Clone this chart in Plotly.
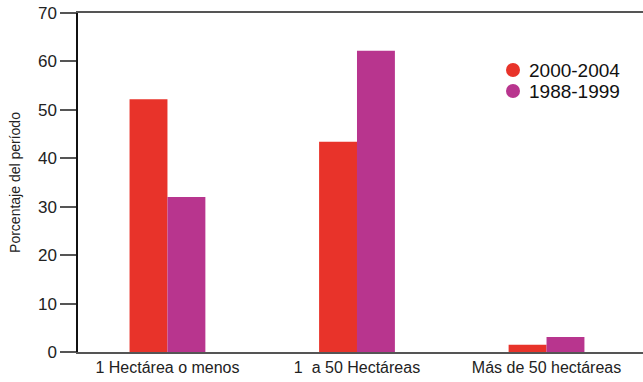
import plotly.graph_objects as go

categories = ["1 Hectárea o menos", "1  a 50 Hectáreas", "Más de 50 hectáreas"]
series_names = ["2000-2004", "1988-1999"]
values_2000_2004 = [52.2, 43.4, 1.5]
values_1988_1999 = [32.0, 62.2, 3.1]
colors = ["#E8332A", "#B8358E"]

W, H = 643, 382
ML, MR, MT, MB = 78, 0, 13, 30
PW, PH = W - ML - MR, H - MT - MB

xpos = list(range(len(categories)))
fig = go.Figure()
for name, vals, col in zip(series_names, [values_2000_2004, values_1988_1999], colors):
    fig.add_trace(go.Bar(x=xpos, y=vals, marker=dict(color=col, line=dict(width=0)),
                         name=name, showlegend=False))

# legend drawn as circle + text in paper coordinates
leg_px_x, leg_px_y = 513, [70, 91]
r = 7
for name, col, py in zip(series_names, colors, leg_px_y):
    cx = (leg_px_x - ML) / PW
    cy = (H - MB - py) / PH
    fig.add_shape(type="circle", xref="paper", yref="paper",
                  x0=cx - r / PW, x1=cx + r / PW, y0=cy - r / PH, y1=cy + r / PH,
                  fillcolor=col, line=dict(width=0))
    fig.add_annotation(text=name, xref="paper", yref="paper", x=(527 - ML) / PW, y=cy,
                       xanchor="left", yanchor="middle", showarrow=False,
                       font=dict(size=19, color="#111"))

font = "Liberation Sans, Arial, sans-serif"
fig.update_layout(
    width=W, height=H, showlegend=False,
    margin=dict(l=ML, r=MR, t=MT, b=MB, autoexpand=False),
    plot_bgcolor="white", paper_bgcolor="white",
    barmode="group", bargap=0.6, bargroupgap=0,
    font=dict(family=font, color="#222", size=16),
    xaxis=dict(tickmode="array", tickvals=xpos, ticktext=categories,
               range=[-0.472, 2.509], showline=True, linecolor="#555", linewidth=1.5,
               mirror=True, ticks="", showgrid=False, zeroline=False,
               tickfont=dict(size=16), automargin=False),
    yaxis=dict(range=[0, 70], dtick=10, showline=True, linecolor="#111", linewidth=1.5,
               ticks="outside", ticklen=16, tickwidth=1.5, tickcolor="#555",
               showgrid=False, zeroline=False, tickfont=dict(size=17), automargin=False,
               title=dict(text="Porcentaje del período", font=dict(size=14), standoff=14)),
)
fig.write_html("out.html", post_script="document.body.style.margin='0';",
               config={"displayModeBar": False})
